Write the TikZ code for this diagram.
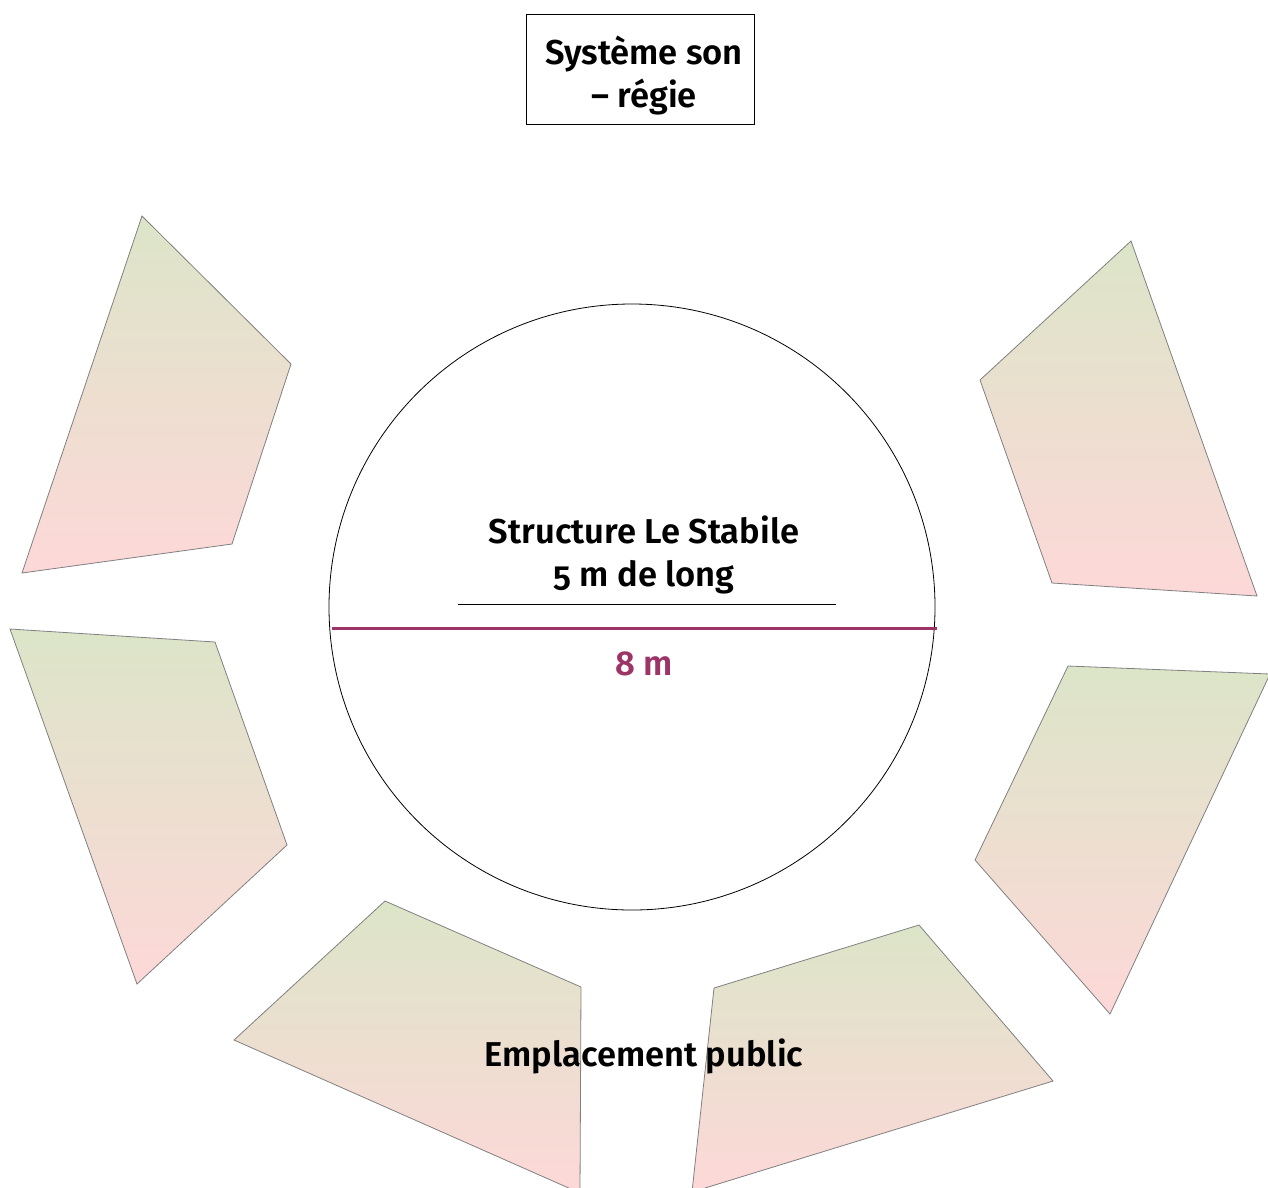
\documentclass[tikz,border=0pt]{standalone}
\usepackage{fontspec}
\setmainfont{Fira Sans}[Numbers=OldStyle, BoldFont={Fira Sans SemiBold}]

\definecolor{zonetop}{RGB}{220,229,200}
\definecolor{zonebottom}{RGB}{253,216,216}
\definecolor{zoneline}{RGB}{128,128,128}
\definecolor{mesure}{RGB}{156,52,104}

\tikzset{
  zone/.style={draw=zoneline, line width=0.8pt, top color=zonetop, bottom color=zonebottom},
  label/.style={font=\fontsize{34.5}{43}\selectfont\bfseries, align=center, anchor=base, inner sep=0pt}
}

\begin{document}
\begin{tikzpicture}[x=1pt, y=-1pt]
    \useasboundingbox (0,0) rectangle (1268,1187);

    % Regie
    \node[draw, line width=0.8pt, minimum width=228pt, minimum height=110pt] (regiebox) at (640,69) {};
    \node[label] (regie) at (644,107) {Système son\\– régie};

    % Public zones
    \shade[zone] (142,216) -- (291,364) -- (232,544) -- (22,573) -- cycle;
    \shade[zone] (10,629) -- (215,642) -- (287,845) -- (137,984) -- cycle;
    \shade[zone] (385,901) -- (581,987) -- (580,1193) -- (234,1040) -- cycle;
    \shade[zone] (714,988) -- (919,925) -- (1053,1081) -- (692,1192) -- cycle;
    \shade[zone] (1068,666) -- (1270,674) -- (1110,1014) -- (975,860) -- cycle;
    \shade[zone] (1131,241) -- (1257,596) -- (1052,583) -- (980,380) -- cycle;

    % Structure
    \node[draw, circle, line width=0.8pt, minimum size=606pt, inner sep=0pt] (structure) at (632,607) {};
    \node[label] (stabile) at (644,586) {Structure Le Stabile\\5 m de long};
    \coordinate (longA) at (458,604);
    \coordinate (longB) at (836,604);
    \draw[line width=0.8pt] (longA) -- (longB);

    % Diametre
    \coordinate (diamA) at (332,628);
    \coordinate (diamB) at (937,628);
    \draw[mesure, line width=3pt] (diamA) -- (diamB);
    \node[label, text=mesure] (diam) at (644,675) {8 m};

    \node[label] (public) at (644,1066) {Emplacement public};

\end{tikzpicture}
\end{document}
